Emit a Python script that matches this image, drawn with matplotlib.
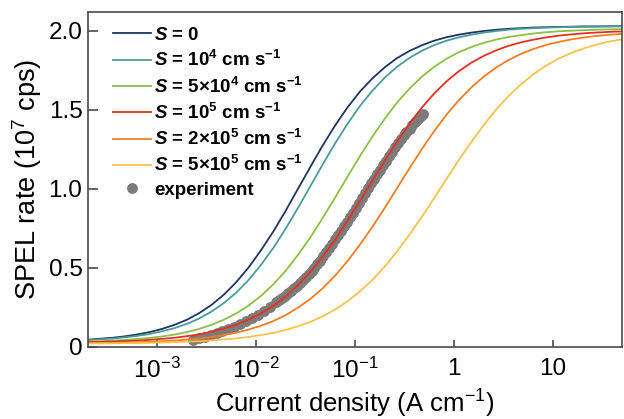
"""SPEL rate vs current density for several surface recombination velocities."""

import matplotlib

matplotlib.use("Agg")
import matplotlib.pyplot as plt
from matplotlib.lines import Line2D

plt.rcParams["font.family"] = ["Liberation Sans", "DejaVu Sans"]
plt.rcParams["mathtext.fontset"] = "custom"
plt.rcParams["mathtext.rm"] = "Liberation Sans"
plt.rcParams["mathtext.it"] = "Liberation Sans:italic"
plt.rcParams["mathtext.bf"] = "Liberation Sans:bold"
plt.rcParams["mathtext.bfit"] = "Liberation Sans:italic:bold"

# model curves (A cm^-1 -> 1e7 cps), read every ~1/8 decade
j_model = [2.0e-4, 2.66e-4, 3.55e-4, 4.73e-4, 6.31e-4, 8.41e-4, 1.12e-3, 1.50e-3,
           2.0e-3, 2.66e-3, 3.55e-3, 4.73e-3, 6.31e-3, 8.41e-3, 0.0112, 0.0150,
           0.02, 0.0266, 0.0355, 0.0473, 0.0631, 0.0841, 0.112, 0.150, 0.2, 0.266,
           0.355, 0.473, 0.631, 0.841, 1.12, 1.50, 2.0, 2.66, 3.55, 4.73, 6.31,
           8.41, 11.2, 15.0, 20.0, 26.6, 35.5, 42.2, 50.0]
rate_s0 = [0.046, 0.052, 0.058, 0.067, 0.079, 0.094, 0.114, 0.140, 0.172, 0.214,
           0.266, 0.331, 0.410, 0.503, 0.611, 0.732, 0.864, 1.002, 1.141, 1.276,
           1.402, 1.516, 1.615, 1.699, 1.769, 1.827, 1.872, 1.908, 1.937, 1.959,
           1.975, 1.988, 1.998, 2.006, 2.012, 2.016, 2.020, 2.022, 2.024, 2.025,
           2.027, 2.027, 2.028, 2.028, 2.029]
rate_s1e4 = [0.043, 0.048, 0.053, 0.061, 0.070, 0.082, 0.099, 0.119, 0.146, 0.180,
             0.224, 0.278, 0.344, 0.424, 0.519, 0.628, 0.750, 0.881, 1.019, 1.156,
             1.289, 1.412, 1.524, 1.621, 1.704, 1.772, 1.828, 1.873, 1.909, 1.937,
             1.958, 1.975, 1.988, 1.998, 2.006, 2.012, 2.016, 2.019, 2.022, 2.024,
             2.025, 2.026, 2.027, 2.028, 2.028]
rate_s5e4 = [0.034, 0.036, 0.040, 0.044, 0.050, 0.057, 0.066, 0.078, 0.094, 0.114,
             0.140, 0.172, 0.212, 0.262, 0.323, 0.397, 0.483, 0.583, 0.695, 0.818,
             0.946, 1.078, 1.207, 1.331, 1.444, 1.546, 1.634, 1.709, 1.772, 1.823,
             1.864, 1.897, 1.923, 1.944, 1.960, 1.972, 1.982, 1.990, 1.996, 2.000,
             2.003, 2.006, 2.008, 2.009, 2.010]
rate_s1e5 = [0.031, 0.032, 0.034, 0.037, 0.040, 0.045, 0.051, 0.058, 0.068, 0.080,
             0.096, 0.116, 0.141, 0.173, 0.212, 0.261, 0.320, 0.392, 0.475, 0.572,
             0.680, 0.798, 0.923, 1.051, 1.178, 1.299, 1.412, 1.514, 1.603, 1.680,
             1.744, 1.798, 1.841, 1.876, 1.904, 1.926, 1.943, 1.957, 1.968, 1.976,
             1.983, 1.988, 1.992, 1.994, 1.995]
rate_s2e5 = [0.024, 0.024, 0.026, 0.027, 0.030, 0.032, 0.036, 0.040, 0.046, 0.053,
             0.063, 0.075, 0.090, 0.110, 0.134, 0.164, 0.202, 0.249, 0.305, 0.372,
             0.452, 0.544, 0.647, 0.760, 0.880, 1.005, 1.130, 1.251, 1.365, 1.469,
             1.561, 1.642, 1.710, 1.767, 1.814, 1.853, 1.884, 1.909, 1.928, 1.944,
             1.956, 1.966, 1.973, 1.977, 1.980]
rate_s5e5 = [0.022, 0.022, 0.023, 0.024, 0.025, 0.026, 0.028, 0.030, 0.033, 0.036,
             0.041, 0.047, 0.054, 0.063, 0.075, 0.089, 0.108, 0.131, 0.159, 0.194,
             0.237, 0.289, 0.351, 0.424, 0.509, 0.605, 0.710, 0.823, 0.942, 1.063,
             1.183, 1.297, 1.404, 1.501, 1.586, 1.660, 1.724, 1.777, 1.821, 1.857,
             1.886, 1.910, 1.929, 1.938, 1.946]

# measured points
j_exp = [2.29e-3, 2.63e-3, 3.02e-3, 3.47e-3, 3.98e-3, 4.57e-3, 5.25e-3, 6.03e-3,
         6.92e-3, 7.94e-3, 9.12e-3, 0.0105, 0.0120, 0.0138, 0.0158, 0.0170, 0.0182,
         0.0195, 0.0209, 0.0224, 0.0240, 0.0257, 0.0275, 0.0295, 0.0316, 0.0339,
         0.0363, 0.0389, 0.0417, 0.0447, 0.0479, 0.0513, 0.0550, 0.0589, 0.0631,
         0.0676, 0.0724, 0.0776, 0.0832, 0.0891, 0.0955, 0.102, 0.110, 0.117,
         0.126, 0.135, 0.145, 0.155, 0.166, 0.178, 0.191, 0.204, 0.219, 0.234,
         0.251, 0.269, 0.288, 0.309, 0.331, 0.355, 0.380, 0.407, 0.437, 0.468, 0.490]
rate_exp = [0.045, 0.055, 0.065, 0.075, 0.088, 0.100, 0.113, 0.128, 0.143, 0.162,
            0.182, 0.205, 0.228, 0.255, 0.282, 0.296, 0.310, 0.323, 0.338, 0.354,
            0.370, 0.386, 0.403, 0.421, 0.440, 0.460, 0.480, 0.500, 0.522, 0.546,
            0.572, 0.598, 0.625, 0.653, 0.682, 0.709, 0.736, 0.762, 0.790, 0.820,
            0.850, 0.881, 0.912, 0.944, 0.975, 1.005, 1.035, 1.063, 1.092, 1.121,
            1.150, 1.178, 1.205, 1.234, 1.262, 1.289, 1.315, 1.338, 1.360, 1.381,
            1.402, 1.421, 1.440, 1.458, 1.472]

labels = [
    r"$\mathbfit{S}$ = 0",
    r"$\mathbfit{S}$ = 10$^{\mathbf{4}}$ cm s$^{\mathbf{-1}}$",
    r"$\mathbfit{S}$ = 5×10$^{\mathbf{4}}$ cm s$^{\mathbf{-1}}$",
    r"$\mathbfit{S}$ = 10$^{\mathbf{5}}$ cm s$^{\mathbf{-1}}$",
    r"$\mathbfit{S}$ = 2×10$^{\mathbf{5}}$ cm s$^{\mathbf{-1}}$",
    r"$\mathbfit{S}$ = 5×10$^{\mathbf{5}}$ cm s$^{\mathbf{-1}}$",
]
colors = ["#1e3560", "#4a9c9a", "#8cbf45", "#e2321f", "#f47d22", "#f9c24a"]
curves = [rate_s0, rate_s1e4, rate_s5e4, rate_s1e5, rate_s2e5, rate_s5e5]

fig = plt.figure(figsize=(6.24, 4.19), dpi=100)
ax = fig.add_axes([0.141, 0.172, 0.856, 0.8])

ax.plot(j_exp, rate_exp, "o", ms=7.8, color="#7b7b7b", mec="none", zorder=1)
for y, c in zip(curves, colors):
    ax.plot(j_model, y, color=c, lw=1.3, zorder=2)

ax.set_xscale("log")
ax.set_xlim(2e-4, 50)
ax.set_ylim(0, 2.12)
ax.set_xticks([1e-3, 1e-2, 1e-1, 1, 10])
ax.set_xticklabels([r"10$^{-3}$", r"10$^{-2}$", r"10$^{-1}$", "1", "10"])
ax.minorticks_off()
ax.set_yticks([0, 0.5, 1.0, 1.5, 2.0])
ax.set_yticklabels(["0", "0.5", "1.0", "1.5", "2.0"])

for s in ax.spines.values():
    s.set_color("#4a4a4a")
    s.set_linewidth(1.2)
ax.tick_params(axis="both", direction="in", colors="#4a4a4a", labelcolor="black",
               labelsize=17.5, width=1.2)
ax.tick_params(axis="y", length=7, pad=4)
ax.tick_params(axis="x", length=5, pad=8)

ax.set_xlabel(r"Current density (A cm$^{-1}$)", fontsize=18.5, labelpad=3)
ax.set_ylabel(r"SPEL rate (10$^{7}$ cps)", fontsize=19.5, labelpad=3)

handles = [Line2D([], [], color=c, lw=1.3) for c in colors]
handles.append(Line2D([], [], ls="none", marker="o", ms=7.8, color="#7b7b7b", mec="none"))
ax.legend(handles, labels + ["experiment"], loc="upper left",
          bbox_to_anchor=(0.047, 0.955), frameon=False, borderaxespad=0, borderpad=0,
          handlelength=2.0, handletextpad=0.2, labelspacing=0.33,
          prop={"weight": "bold", "size": 13.5})

fig.savefig("out.png", dpi=100)
